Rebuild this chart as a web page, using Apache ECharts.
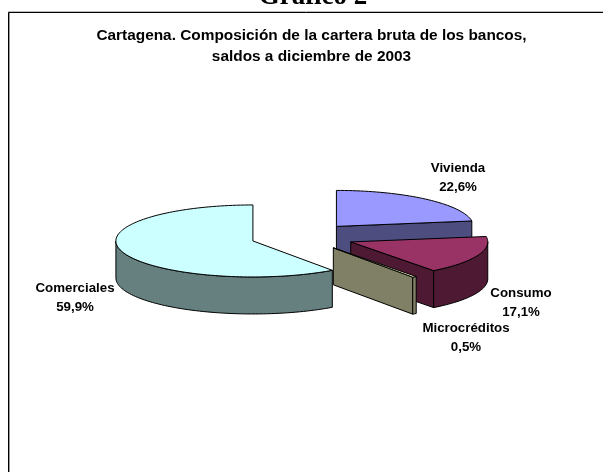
<!DOCTYPE html>
<html>
<head>
<meta charset="utf-8">
<style>html,body{margin:0;padding:0;background:#fff}</style>
<script src="https://cdn.jsdelivr.net/npm/echarts@6/dist/echarts.min.js"></script>
</head>
<body>
<div id="chart" style="width:603px;height:472px"></div>
<script>
const categories = ['Vivienda', 'Consumo', 'Microcréditos', 'Comerciales'];
const shares = [22.6, 17.1, 0.5, 59.9];
const topColors = ['#9999FF', '#993366', '#FFFFCC', '#CCFFFF'];
const sideColors = ['#4D4D80', '#4D1933', '#808066', '#668080'];
// where each label sits, same order as categories
const labelPos = [[458, 178], [521, 303], [466, 338], [75, 298]];

const total = shares.reduce((a, b) => a + b, 0);
const cx = 302.5, cy = 236.8, rx = 137, ry = 36, depth = 37, explode = 0.38;
const FONT = 'Liberation Sans, Arial, sans-serif';

// angle is clockwise from 12 o'clock
function pt(c, a, dy) {
  return [c[0] + rx * Math.sin(a), c[1] - ry * Math.cos(a) + (dy || 0)];
}
function arc(c, a0, a1, dy) {
  const n = Math.max(2, Math.ceil(Math.abs(a1 - a0) / 0.03));
  const pts = [];
  for (let i = 0; i <= n; i++) pts.push(pt(c, a0 + (a1 - a0) * i / n, dy));
  return pts;
}
function face(points, color) {
  return {
    type: 'polygon',
    shape: { points: points },
    style: { fill: color, stroke: '#000', lineWidth: 1, lineJoin: 'round' }
  };
}

function renderSlice(params, api) {
  const i = params.dataIndex;
  let before = 0;
  for (let k = 0; k < i; k++) before += shares[k];
  const a0 = before / total * Math.PI * 2;
  const a1 = (before + api.value(0)) / total * Math.PI * 2;
  const mid = (a0 + a1) / 2;
  const c = [cx + explode * rx * Math.sin(mid), cy - explode * ry * Math.cos(mid)];
  const children = [];
  const side = sideColors[i];

  // cut faces that look towards the viewer
  if (a0 > Math.PI && a0 < Math.PI * 2) {
    children.push(face([c, pt(c, a0), pt(c, a0, depth), [c[0], c[1] + depth]], side));
  }
  if (a1 > 0 && a1 < Math.PI) {
    children.push(face([c, pt(c, a1), pt(c, a1, depth), [c[0], c[1] + depth]], side));
  }
  // rim, front half only
  const r0 = Math.max(a0, Math.PI / 2), r1 = Math.min(a1, Math.PI * 1.5);
  if (r1 > r0) {
    children.push(face(arc(c, r0, r1, 0).concat(arc(c, r1, r0, depth)), side));
  }
  children.push(face([c].concat(arc(c, a0, a1, 0)), topColors[i]));
  return { type: 'group', children: children };
}

const option = {
  animation: false,
  backgroundColor: '#fff',
  graphic: [
    { type: 'line', shape: { x1: 8, y1: 11.5, x2: 603, y2: 11.5 }, style: { stroke: '#bbb', lineWidth: 1 } },
    { type: 'rect', shape: { x: 8.5, y: 12.5, width: 640, height: 500 }, style: { fill: '#fff', stroke: '#000', lineWidth: 1 } },
    { type: 'line', shape: { x1: 9.5, y1: 13, x2: 9.5, y2: 472 }, style: { stroke: '#999', lineWidth: 1 } },
    { type: 'text', x: 313, y: 11, style: { text: 'Gráfico 2', fill: '#000', font: 'bold 27px Liberation Serif, serif', textAlign: 'center', textVerticalAlign: 'bottom' } },
    { type: 'text', x: 311.5, y: 36, style: { text: 'Cartagena. Composición de la cartera bruta de los bancos,', fill: '#000', font: 'bold 15.4px ' + FONT, textAlign: 'center', textVerticalAlign: 'middle' } },
    { type: 'text', x: 311.5, y: 57, style: { text: 'saldos a diciembre de 2003', fill: '#000', font: 'bold 15.4px ' + FONT, textAlign: 'center', textVerticalAlign: 'middle' } }
  ],
  series: [{
    type: 'custom',
    coordinateSystem: 'none',
    renderItem: renderSlice,
    data: shares.map(v => [v]),
    z: 2
  }, {
    type: 'custom',
    coordinateSystem: 'none',
    renderItem: function (params, api) {
      const p = labelPos[params.dataIndex];
      return {
        type: 'text',
        x: p[0],
        y: p[1],
        style: {
          text: categories[params.dataIndex] + '\n' + api.value(0).toFixed(1).replace('.', ',') + '%',
          fill: '#000',
          font: 'bold 13.3px ' + FONT,
          textAlign: 'center',
          textVerticalAlign: 'middle',
          lineHeight: 19
        }
      };
    },
    data: shares.map(v => [v]),
    z: 3
  }]
};

const chart = echarts.init(document.getElementById('chart'), null, { renderer: 'canvas' });
chart.setOption(option);
</script>
</body>
</html>
